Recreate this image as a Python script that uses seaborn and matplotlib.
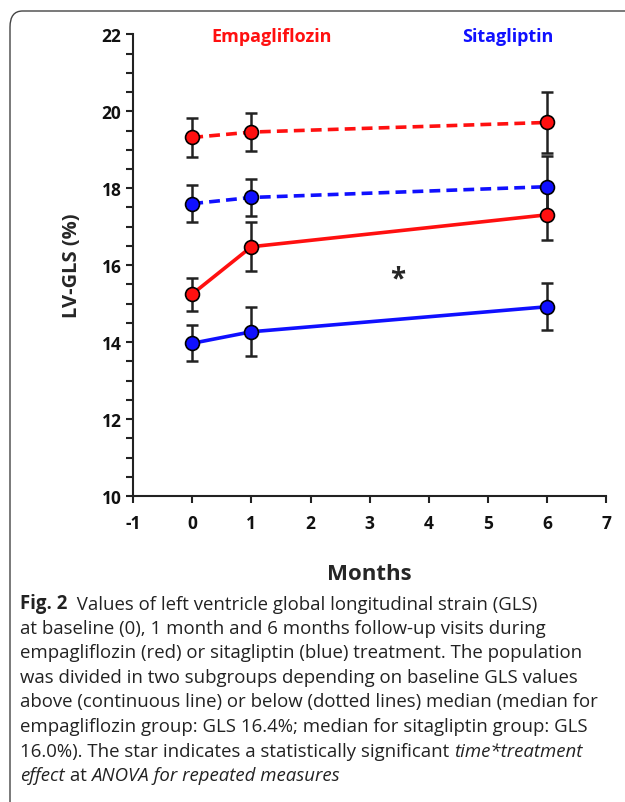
import matplotlib
matplotlib.use("Agg")
import matplotlib.pyplot as plt
import seaborn as sns
import pandas as pd
from matplotlib.patches import FancyBboxPatch
from matplotlib.ticker import MultipleLocator

# ---- data ----
months = [0, 1, 6]
empa_below = [19.32, 19.46, 19.71]
empa_below_err = [0.50, 0.50, 0.80]
sita_below = [17.60, 17.76, 18.04]
sita_below_err = [0.48, 0.48, 0.80]
empa_above = [15.25, 16.48, 17.31]
empa_above_err = [0.43, 0.63, 0.66]
sita_above = [13.97, 14.27, 14.92]
sita_above_err = [0.47, 0.64, 0.61]

x_ticks = [-1, 0, 1, 2, 3, 4, 5, 6, 7]
y_ticks = [10, 12, 14, 16, 18, 20, 22]

series = [
    ("Empagliflozin", "below", empa_below, empa_below_err),
    ("Sitagliptin", "below", sita_below, sita_below_err),
    ("Empagliflozin", "above", empa_above, empa_above_err),
    ("Sitagliptin", "above", sita_above, sita_above_err),
]
rows = []
for drug, grp, vals, errs in series:
    for m, v, e in zip(months, vals, errs):
        rows.append({"Months": m, "GLS": v, "err": e, "Drug": drug, "Group": grp})
df = pd.DataFrame(rows)

sns.set_style("ticks")
plt.rcParams["font.family"] = ["Open Sans", "DejaVu Sans"]
plt.rcParams["axes.unicode_minus"] = False

RED = "#ff1010"
BLUE = "#1010ff"

fig = plt.figure(figsize=(6.25, 8.03), dpi=100)
ax = fig.add_axes([0.213, 0.381, 0.757, 0.575])

# error bars
for (drug, grp), sub in df.groupby(["Drug", "Group"]):
    ax.errorbar(sub["Months"], sub["GLS"], yerr=sub["err"], fmt="none",
                ecolor="#222222", elinewidth=1.8, capsize=4, capthick=1.8, zorder=1.5)

sns.lineplot(data=df, x="Months", y="GLS", hue="Drug", style="Group",
             palette={"Empagliflozin": RED, "Sitagliptin": BLUE},
             dashes={"above": "", "below": (3.0, 1.7)},
             markers={"above": "o", "below": "o"},
             markersize=10, markeredgecolor="black", markeredgewidth=1.2,
             linewidth=2.6, legend=False, ax=ax, zorder=3)

ax.set_xlim(-1, 7)
ax.set_ylim(10, 22)
ax.set_xticks(x_ticks)
ax.set_yticks(y_ticks)
ax.yaxis.set_minor_locator(MultipleLocator(0.5))
ax.tick_params(axis="both", which="both", direction="out", length=5, width=1.5, colors="#222222")
ax.tick_params(axis="x", pad=8)
for lab in ax.get_xticklabels() + ax.get_yticklabels():
    lab.set_fontweight("bold")
    lab.set_fontsize(12.5)
    lab.set_color("#111111")
sns.despine(ax=ax)
for s in ["left", "bottom"]:
    ax.spines[s].set_linewidth(1.5)
    ax.spines[s].set_color("#222222")

ax.set_xlabel("Months", fontsize=16, fontweight="bold", labelpad=22)
ax.set_ylabel("LV-GLS (%)", fontsize=14.5, fontweight="bold", labelpad=14)

ax.text(1.35, 21.95, "Empagliflozin", color=RED, fontsize=13, fontweight="bold",
        ha="center", va="center")
ax.text(5.34, 21.95, "Sitagliptin", color=BLUE, fontsize=13, fontweight="bold",
        ha="center", va="center")
ax.text(3.47, 15.65, "*", fontsize=20, fontweight="bold", ha="center", va="center")

# border box (partially visible)
box = FancyBboxPatch((10 / 625, -0.2), 1.2, 1.2 - 12 / 803,
                     boxstyle="round,pad=0,rounding_size=0.02",
                     transform=fig.transFigure, fill=False, edgecolor="#444444",
                     linewidth=1.0, clip_on=False)
fig.patches.append(box)

# caption
cap_fs = 13.4
x0 = 20 / 625
line_h = 24.6 / 803
y0 = 1 - 609 / 803

def tx(x, y, s, **kw):
    return fig.text(x, y, s, fontsize=cap_fs, color="#222222", va="baseline", **kw)

def after(prev, s, **kw):
    return ax.annotate(s, xy=(1, 0), xycoords=prev, va="bottom", ha="left",
                       fontsize=cap_fs, color="#222222", annotation_clip=False, **kw)

t = tx(x0, y0, "Fig. 2", fontweight="bold")
after(t, "  Values of left ventricle global longitudinal strain (GLS)")
lines = [
    "at baseline (0), 1 month and 6 months follow-up visits during",
    "empagliflozin (red) or sitagliptin (blue) treatment. The population",
    "was divided in two subgroups depending on baseline GLS values",
    "above (continuous line) or below (dotted lines) median (median for",
    "empagliflozin group: GLS 16.4%; median for sitagliptin group: GLS",
]
for i, s in enumerate(lines):
    tx(x0, y0 - (i + 1) * line_h, s)

l7 = tx(x0, y0 - 6 * line_h, "16.0%). The star indicates a statistically significant ")
after(l7, "time*treatment", style="italic")
l8 = tx(x0, y0 - 7 * line_h, "effect", style="italic")
l8b = after(l8, " at ")
after(l8b, "ANOVA for repeated measures", style="italic")

fig.savefig("out.png", dpi=100)
